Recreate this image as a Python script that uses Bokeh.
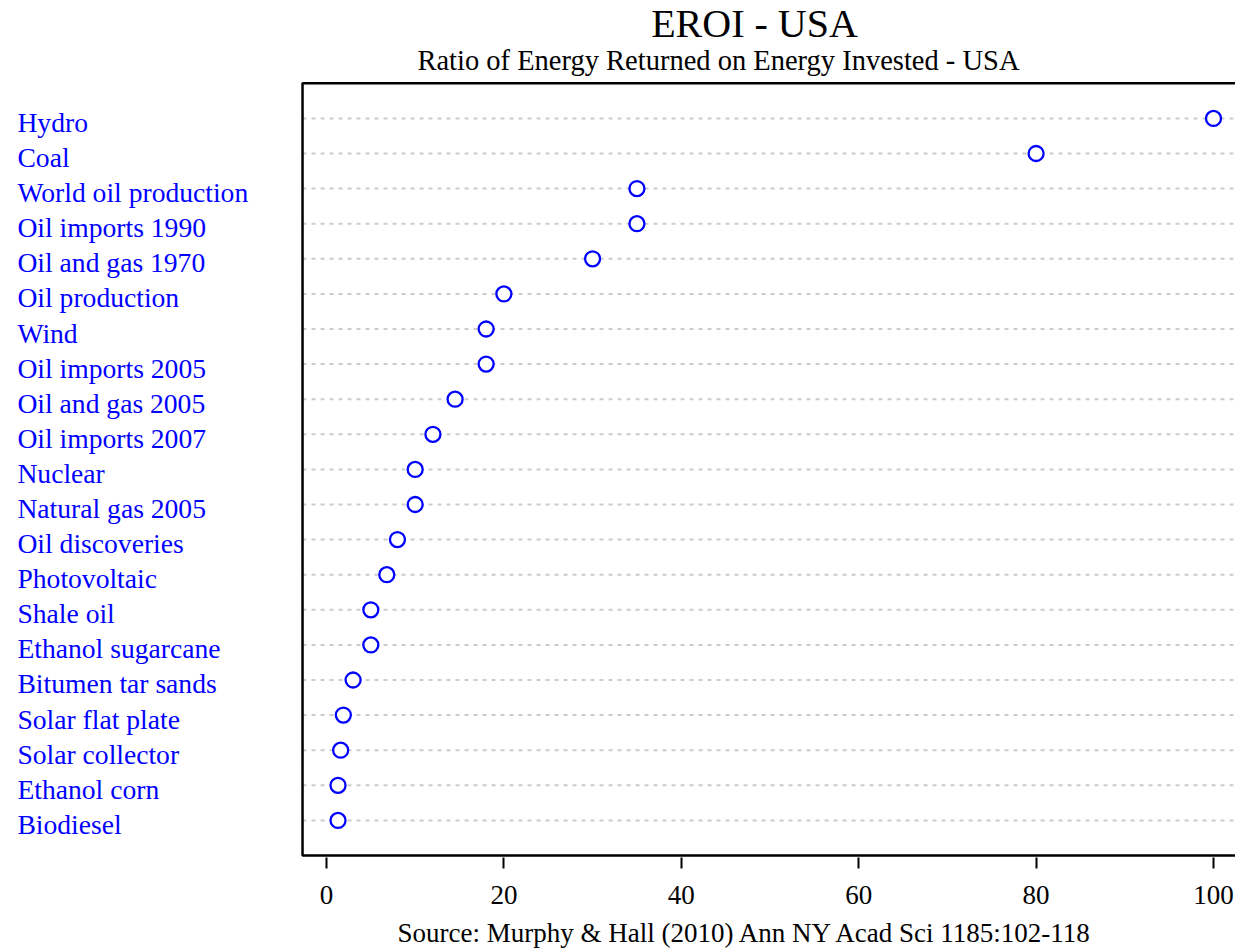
from bokeh.plotting import figure
from bokeh.models import Range1d, FixedTicker, ColumnDataSource, Title
from bokeh.core.properties import value
from bokeh.embed import file_html
from bokeh.resources import INLINE

# ---------------- data ----------------
categories = [
    "Hydro", "Coal", "World oil production", "Oil imports 1990",
    "Oil and gas 1970", "Oil production", "Wind", "Oil imports 2005",
    "Oil and gas 2005", "Oil imports 2007", "Nuclear", "Natural gas 2005",
    "Oil discoveries", "Photovoltaic", "Shale oil", "Ethanol sugarcane",
    "Bitumen tar sands", "Solar flat plate", "Solar collector",
    "Ethanol corn", "Biodiesel",
]
eroi = [100, 80, 35, 35, 30, 20, 18, 18, 14.5, 12, 10, 10, 8, 6.8, 5, 5,
        3, 1.9, 1.6, 1.3, 1.3]
x_ticks = [0, 20, 40, 60, 80, 100]
title_text = "EROI - USA"
subtitle_text = "Ratio of Energy Returned on Energy Invested - USA"
source_text = "Source: Murphy & Hall (2010) Ann NY Acad Sci 1185:102-118"

# ---------------- layout constants ----------------
W, H = 1235, 948
X0, X1 = -36.75, 102.48
Y0, Y1 = -0.057, 24.359
BOX_L, BOX_R = -2.7, 104.0
LABEL_X = -34.84
SERIF = value("Liberation Serif")

n = len(categories)
rows = [n - i for i in range(n)]
top_row = n + 1

src = ColumnDataSource(dict(cat=categories, val=eroi, row=rows,
                            x0=[BOX_L] * n, x1=[BOX_R] * n,
                            lx=[LABEL_X] * n))

p = figure(width=W, height=H, output_backend="svg", toolbar_location=None,
           x_range=Range1d(X0, X1), y_range=Range1d(Y0, Y1),
           y_axis_location=None,
           min_border_left=0, min_border_right=0, min_border_top=0,
           min_border_bottom=91)
p.outline_line_color = None
p.background_fill_color = "white"
p.border_fill_color = "white"
p.xgrid.visible = False
p.ygrid.visible = False

# dotted guide lines
p.segment(x0="x0", x1="x1", y0="row", y1="row", source=src,
          line_color="#cccccc", line_width=2, line_dash="4 5")

# plot box (left, top, bottom)
p.line(x=[BOX_R, BOX_L, BOX_L, BOX_R], y=[top_row, top_row, 0, 0],
       line_color="black", line_width=2.5)

# points
p.scatter(x="val", y="row", source=src, marker="circle", size=15,
          fill_color="white", line_color="#0000ff", line_width=2.3)

# category labels
p.text(x="lx", y="row", text="cat", source=src, text_font=SERIF,
       text_font_size="27.6px", text_color="#0000ff", text_align="left",
       text_baseline="alphabetic", y_offset=4)

# titles
p.text(x=[48.25], y=[23.715], text=[title_text], text_font=SERIF,
       text_font_size="40px", text_color="black", text_align="center",
       text_baseline="alphabetic")
p.text(x=[44.19], y=[22.658], text=[subtitle_text], text_font=SERIF,
       text_font_size="28.5px", text_color="black", text_align="center",
       text_baseline="alphabetic")

# x axis
ax = p.xaxis[0]
ax.ticker = FixedTicker(ticks=x_ticks)
ax.axis_line_color = None
ax.major_tick_in = 0
ax.major_tick_out = 11
ax.major_tick_line_width = 2
ax.major_tick_line_color = "black"
ax.minor_tick_in = 0
ax.minor_tick_out = 0
ax.major_label_standoff = 17
ax.major_label_text_font = "Liberation Serif"
ax.major_label_text_font_size = "27px"
ax.major_label_text_color = "black"

# source note below the axis (leading blank line acts as spacer)
p.add_layout(Title(text="\n" + source_text, align="left", offset=397,
                   standoff=0, vertical_align="bottom",
                   text_line_height=0.3,
                   text_font="Liberation Serif", text_font_size="27px",
                   text_font_style="normal", text_color="black"), "below")

open("out.html", "w").write(file_html(p, INLINE))
